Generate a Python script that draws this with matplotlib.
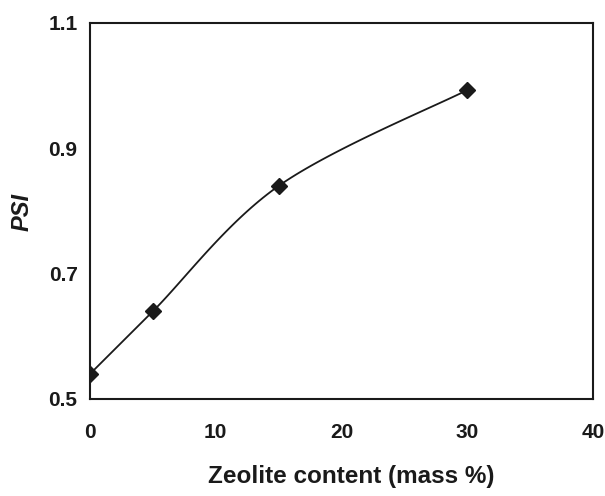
import numpy as np
import matplotlib
matplotlib.use("Agg")
import matplotlib.pyplot as plt

zeolite = [0, 5, 15, 30]
psi = [0.54, 0.64, 0.84, 0.993]
xticks = [0, 10, 20, 30, 40]
yticks = [0.5, 0.7, 0.9, 1.1]

def smooth(xs, ys, n=40):
    # Excel-style Bezier smoothing (Catmull-Rom with tension 1/6)
    P = np.column_stack([xs, ys]).astype(float)
    out = [P[0]]
    m = len(P)
    for i in range(m - 1):
        p0 = P[i - 1] if i > 0 else P[i]
        p1, p2 = P[i], P[i + 1]
        p3 = P[i + 2] if i + 2 < m else P[i + 1]
        c1 = p1 + (p2 - p0) / 6.0
        c2 = p2 - (p3 - p1) / 6.0
        t = np.linspace(0, 1, n)[1:, None]
        seg = ((1 - t) ** 3) * p1 + 3 * ((1 - t) ** 2) * t * c1 + 3 * (1 - t) * t ** 2 * c2 + t ** 3 * p2
        out.extend(seg)
    out = np.array(out)
    return out[:, 0], out[:, 1]

plt.rcParams['font.family'] = ['Liberation Sans', 'DejaVu Sans']
W, H = 605, 496
fig = plt.figure(figsize=(W / 100, H / 100), dpi=100)
ax = fig.add_axes([90 / W, 1 - 399 / H, (593 - 90) / W, (399 - 23) / H])

sx, sy = smooth(np.array(zeolite) / 40 * 503, (np.array(psi) - 0.5) / 0.6 * 376)
ax.plot(sx / 503 * 40, sy / 376 * 0.6 + 0.5, color='#1a1a1a', lw=1.3)
ax.plot(zeolite, psi, linestyle='none', marker='D', ms=8, color='#1a1a1a')

ax.set_xlim(0, 40)
ax.set_ylim(0.5, 1.1)
ax.set_xticks(xticks)
ax.set_yticks(yticks)
ax.set_xticklabels([str(v) for v in xticks])
ax.set_yticklabels([f"{v:.1f}" for v in yticks])
ax.tick_params(length=0, labelsize=15, colors='#1a1a1a')
ax.tick_params(axis='x', pad=17)
ax.tick_params(axis='y', pad=9)
for lab in ax.get_xticklabels() + ax.get_yticklabels():
    lab.set_fontweight('bold')
for s in ax.spines.values():
    s.set_linewidth(1.5)
    s.set_color('#1a1a1a')
fig.text(351 / W, 1 - 483 / H, 'Zeolite content (mass %)', fontsize=17.5,
         fontweight='bold', ha='center', va='baseline', color='#1a1a1a')
fig.text(22 / W, 1 - 212 / H, 'PSI', fontsize=17, fontweight='bold', style='italic',
         rotation=90, ha='center', va='center', color='#1a1a1a')
fig.savefig('out.png', dpi=100)
